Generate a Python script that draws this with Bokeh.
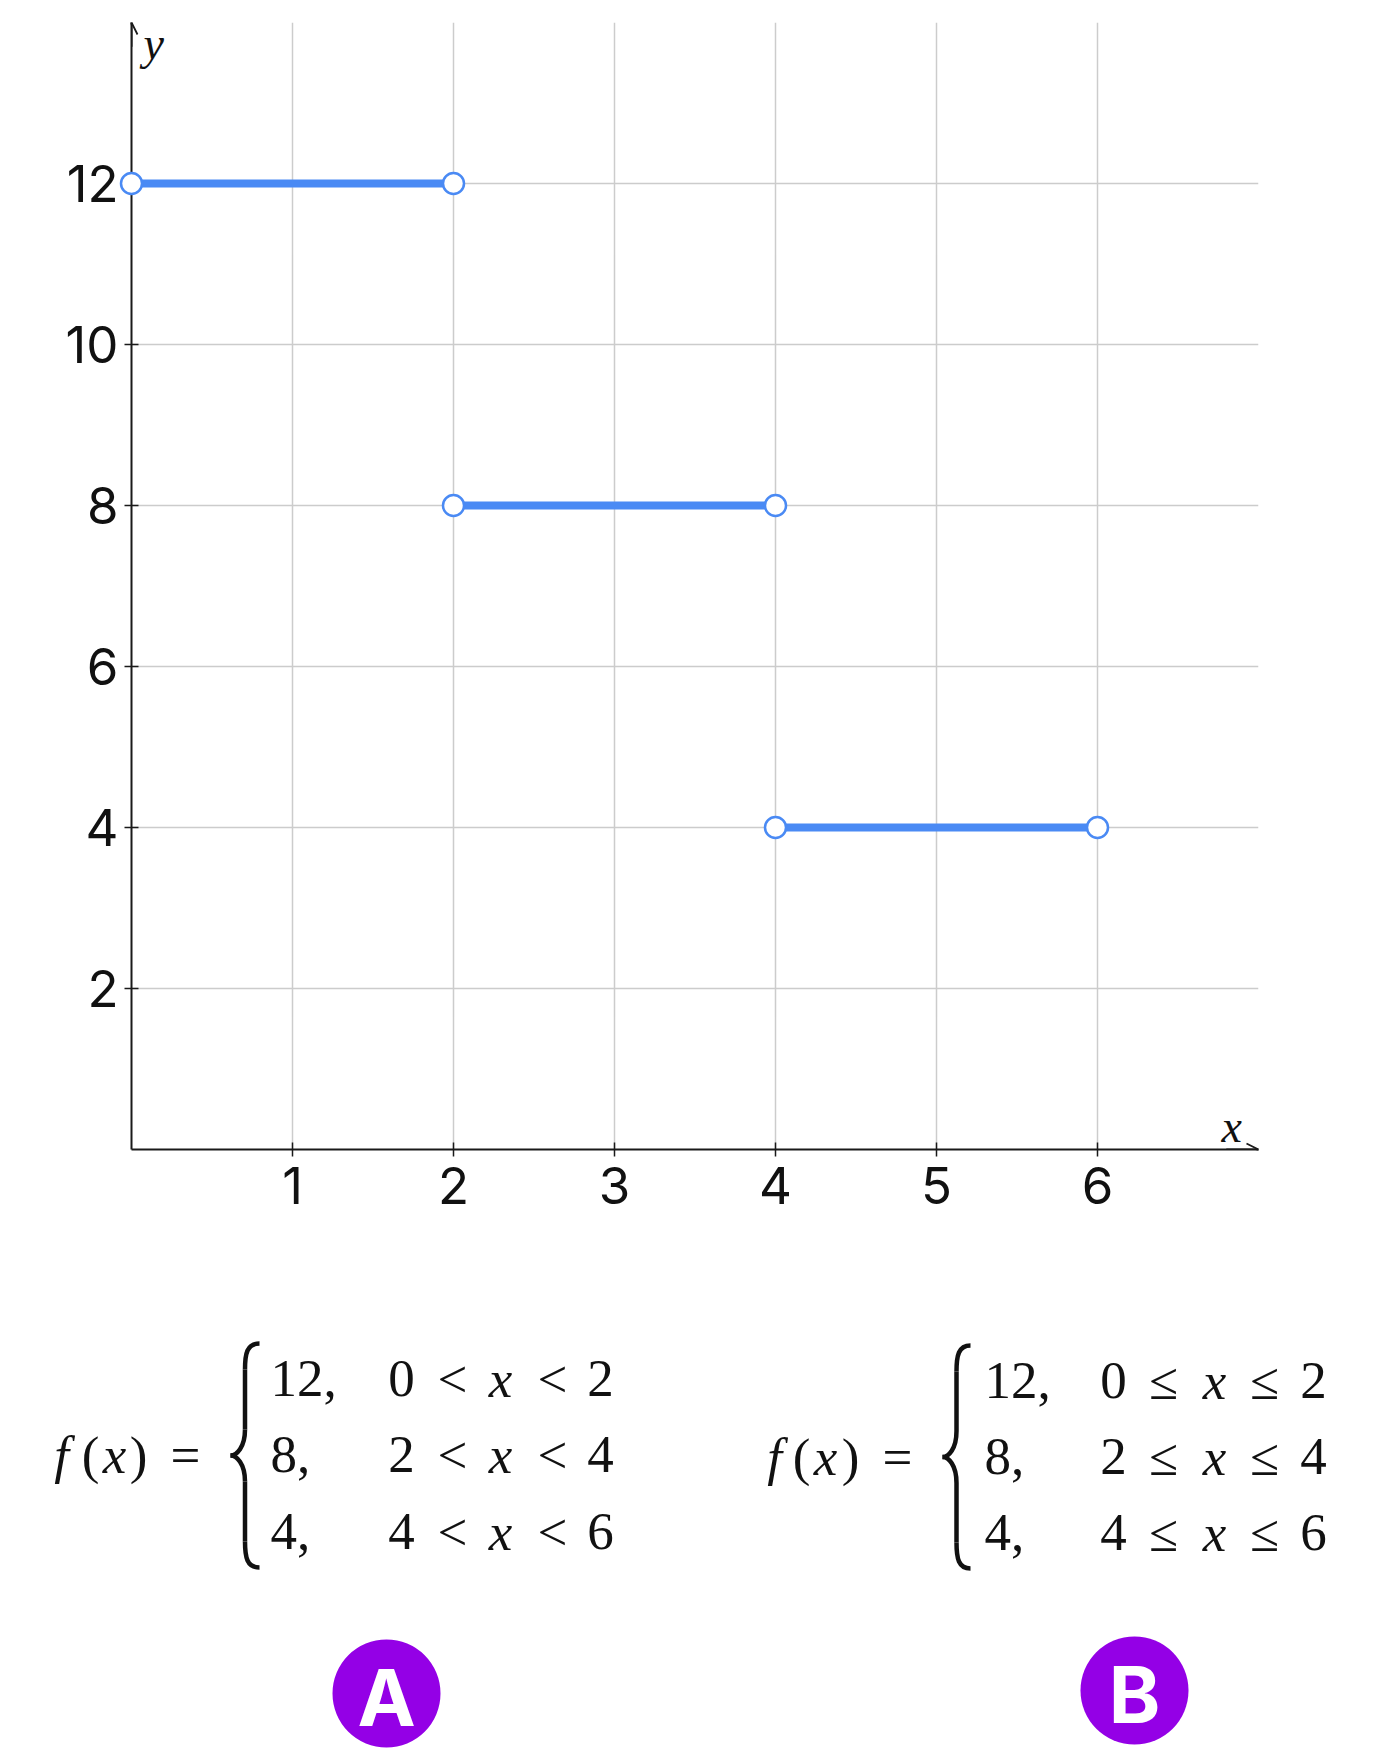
from bokeh.plotting import figure
from bokeh.models import Range1d, FixedTicker, Arrow, OpenHead, Label
from bokeh.layouts import column
from bokeh.embed import file_html
from bokeh.resources import INLINE
from bokeh.core.properties import value

# ---- data ----
seg_start = [0, 2, 4]
seg_end = [2, 4, 6]
seg_value = [12, 8, 4]
x_ticks = [1, 2, 3, 4, 5, 6]
y_ticks = [2, 4, 6, 8, 10, 12]
piece_values = ["12,", "8,", "4,"]
lower_bounds = ["0", "2", "4"]
upper_bounds = ["2", "4", "6"]
ops = ["<", "\u2264"]
badge_labels = ["A", "B"]

BLUE = "#4a8af4"
AXIS = "#1a1a1a"
GRID = "#cccccc"
TICK_FONT = "Inter"
MATH_FONT = "Liberation Serif"

FRAME_L, FRAME_W = 131, 1127
FIG_W = 1376
H1, H2 = 1240, 512
BASE_SHIFT = 17  # baseline correction for text glyphs

# ---- chart ----
p = figure(width=FIG_W, height=H1, x_range=Range1d(0, 7), y_range=Range1d(0, 14),
           output_backend="svg", toolbar_location=None,
           min_border_left=FRAME_L, min_border_right=FIG_W - FRAME_L - FRAME_W,
           min_border_top=22, min_border_bottom=H1 - 22 - 1127)
p.outline_line_color = None
p.background_fill_color = "white"
p.border_fill_color = "white"

for ax, ticks in ((p.xaxis, x_ticks), (p.yaxis, y_ticks)):
    ax.ticker = FixedTicker(ticks=ticks)
    ax.minor_tick_line_color = None
    ax.major_tick_in = 7
    ax.major_tick_out = 7
    ax.major_tick_line_color = AXIS
    ax.major_tick_line_width = 1.5
    ax.axis_line_color = AXIS
    ax.axis_line_width = 2
    ax.major_label_text_font = TICK_FONT
    ax.major_label_text_font_size = "51px"
    ax.major_label_text_color = "#111111"
p.xaxis.major_label_standoff = 10
p.yaxis.major_label_standoff = 6

p.xgrid.ticker = FixedTicker(ticks=x_ticks)
p.ygrid.ticker = FixedTicker(ticks=y_ticks)
p.grid.grid_line_color = GRID
p.grid.grid_line_width = 1.5

p.add_layout(Arrow(end=OpenHead(size=12, line_width=1.8, line_color=AXIS),
                   x_start=0, y_start=13.7, x_end=0, y_end=14,
                   line_color=AXIS, line_width=2, level="overlay"))
p.add_layout(Arrow(end=OpenHead(size=12, line_width=1.8, line_color=AXIS),
                   x_start=6.8, y_start=0, x_end=7, y_end=0,
                   line_color=AXIS, line_width=2, level="overlay"))

p.add_layout(Label(x=0, y=14, x_offset=12, y_offset=-21, text="y",
                   text_font=MATH_FONT, text_font_style="italic", text_font_size="46px",
                   text_baseline="alphabetic", text_color="#111111", level="overlay"))
p.add_layout(Label(x=7, y=0, x_offset=-37, y_offset=23, text="x",
                   text_font=MATH_FONT, text_font_style="italic", text_font_size="46px",
                   text_baseline="alphabetic", text_color="#111111", level="overlay"))

p.segment(x0=seg_start, y0=seg_value, x1=seg_end, y1=seg_value,
          line_color=BLUE, line_width=8)
pts_x = seg_start + seg_end
pts_y = seg_value + seg_value
r = p.scatter(pts_x, pts_y, size=21, fill_color="white", line_color=BLUE, line_width=2.5)
r.level = "overlay"

# ---- formulas & badges (data units = page pixels) ----
q = figure(width=FIG_W, height=H2, x_range=Range1d(FRAME_L, FRAME_L + FRAME_W),
           y_range=Range1d(H1 + H2, H1),
           output_backend="svg", toolbar_location=None,
           x_axis_location=None, y_axis_location=None,
           min_border_left=FRAME_L, min_border_right=FIG_W - FRAME_L - FRAME_W,
           min_border_top=0, min_border_bottom=0)
q.grid.visible = False
q.outline_line_color = None
q.background_fill_color = "white"
q.border_fill_color = "white"

up = dict(x=[], y=[], t=[])
it = dict(x=[], y=[], t=[])
left = dict(x=[], y=[], t=[])

def put(d, x, y, t):
    d["x"].append(x); d["y"].append(y - BASE_SHIFT); d["t"].append(t)

specs = [
    dict(fx=[61, 90, 114, 138, 185], fy=1471, brace=(230, 259, 1343, 1567), vx=270,
         cols=[401, 452, 500, 552, 600], rows=[1395, 1471, 1548]),
    dict(fx=[774, 801, 825, 850, 897], fy=1473, brace=(942, 970, 1345, 1568), vx=984,
         cols=[1113, 1163, 1214, 1264, 1313], rows=[1397, 1473, 1549]),
]

renderers = []
for k, s in enumerate(specs):
    op = ops[k]
    put(it, s["fx"][0], s["fy"], "f")
    put(up, s["fx"][1], s["fy"], "(")
    put(it, s["fx"][2], s["fy"], "x")
    put(up, s["fx"][3], s["fy"], ")")
    put(up, s["fx"][4], s["fy"], "=")
    for i in range(3):
        yb = s["rows"][i]
        put(left, s["vx"], yb, piece_values[i])
        c = s["cols"]
        put(up, c[0], yb, lower_bounds[i])
        put(up, c[1], yb, op)
        put(it, c[2], yb, "x")
        put(up, c[3], yb, op)
        put(up, c[4], yb, upper_bounds[i])
    # brace
    L, R, T, B = s["brace"]
    M = L + 0.5 * (R - L)
    mid = (T + B) / 2
    h = 26
    renderers.append(q.bezier(x0=[R, M, L, M], y0=[T, mid - h, mid, B - h],
             x1=[M, L, M, R], y1=[T + h, mid, mid + h, B],
             cx0=[M + 2, M, L + 6, M], cy0=[T, mid - 8, mid, B - 10],
             cx1=[M, L + 6, M, M + 2], cy1=[T + 10, mid, mid + 8, B],
             line_color="#111111", line_width=4.5))
    renderers.append(q.segment(x0=[M, M], y0=[T + h, mid + h], x1=[M, M], y1=[mid - h, B - h],
              line_color="#111111", line_width=4.5))

common = dict(text_font=value(MATH_FONT), text_font_size="53px",
              text_baseline="alphabetic", text_color="#111111")
renderers.append(q.text(x=up["x"], y=up["y"], text=up["t"], text_align="center", **common))
renderers.append(q.text(x=it["x"], y=it["y"], text=it["t"], text_align="center",
                        text_font_style="italic", **common))
renderers.append(q.text(x=left["x"], y=left["y"], text=left["t"], text_align="left", **common))

renderers.append(q.circle(x=[386, 1134], y=[1693, 1690], radius=54,
                          fill_color="#9400e6", line_color=None))
renderers.append(q.text(x=[386, 1134], y=[1697, 1694], text=badge_labels, text_align="center",
                        text_baseline="middle", text_font=value("Inter"), text_font_style="bold",
                        text_font_size="78px", text_color="white"))
for rr in renderers:
    rr.level = "overlay"

layout = column(p, q, spacing=0)
open("out.html", "w").write(file_html(layout, INLINE))
